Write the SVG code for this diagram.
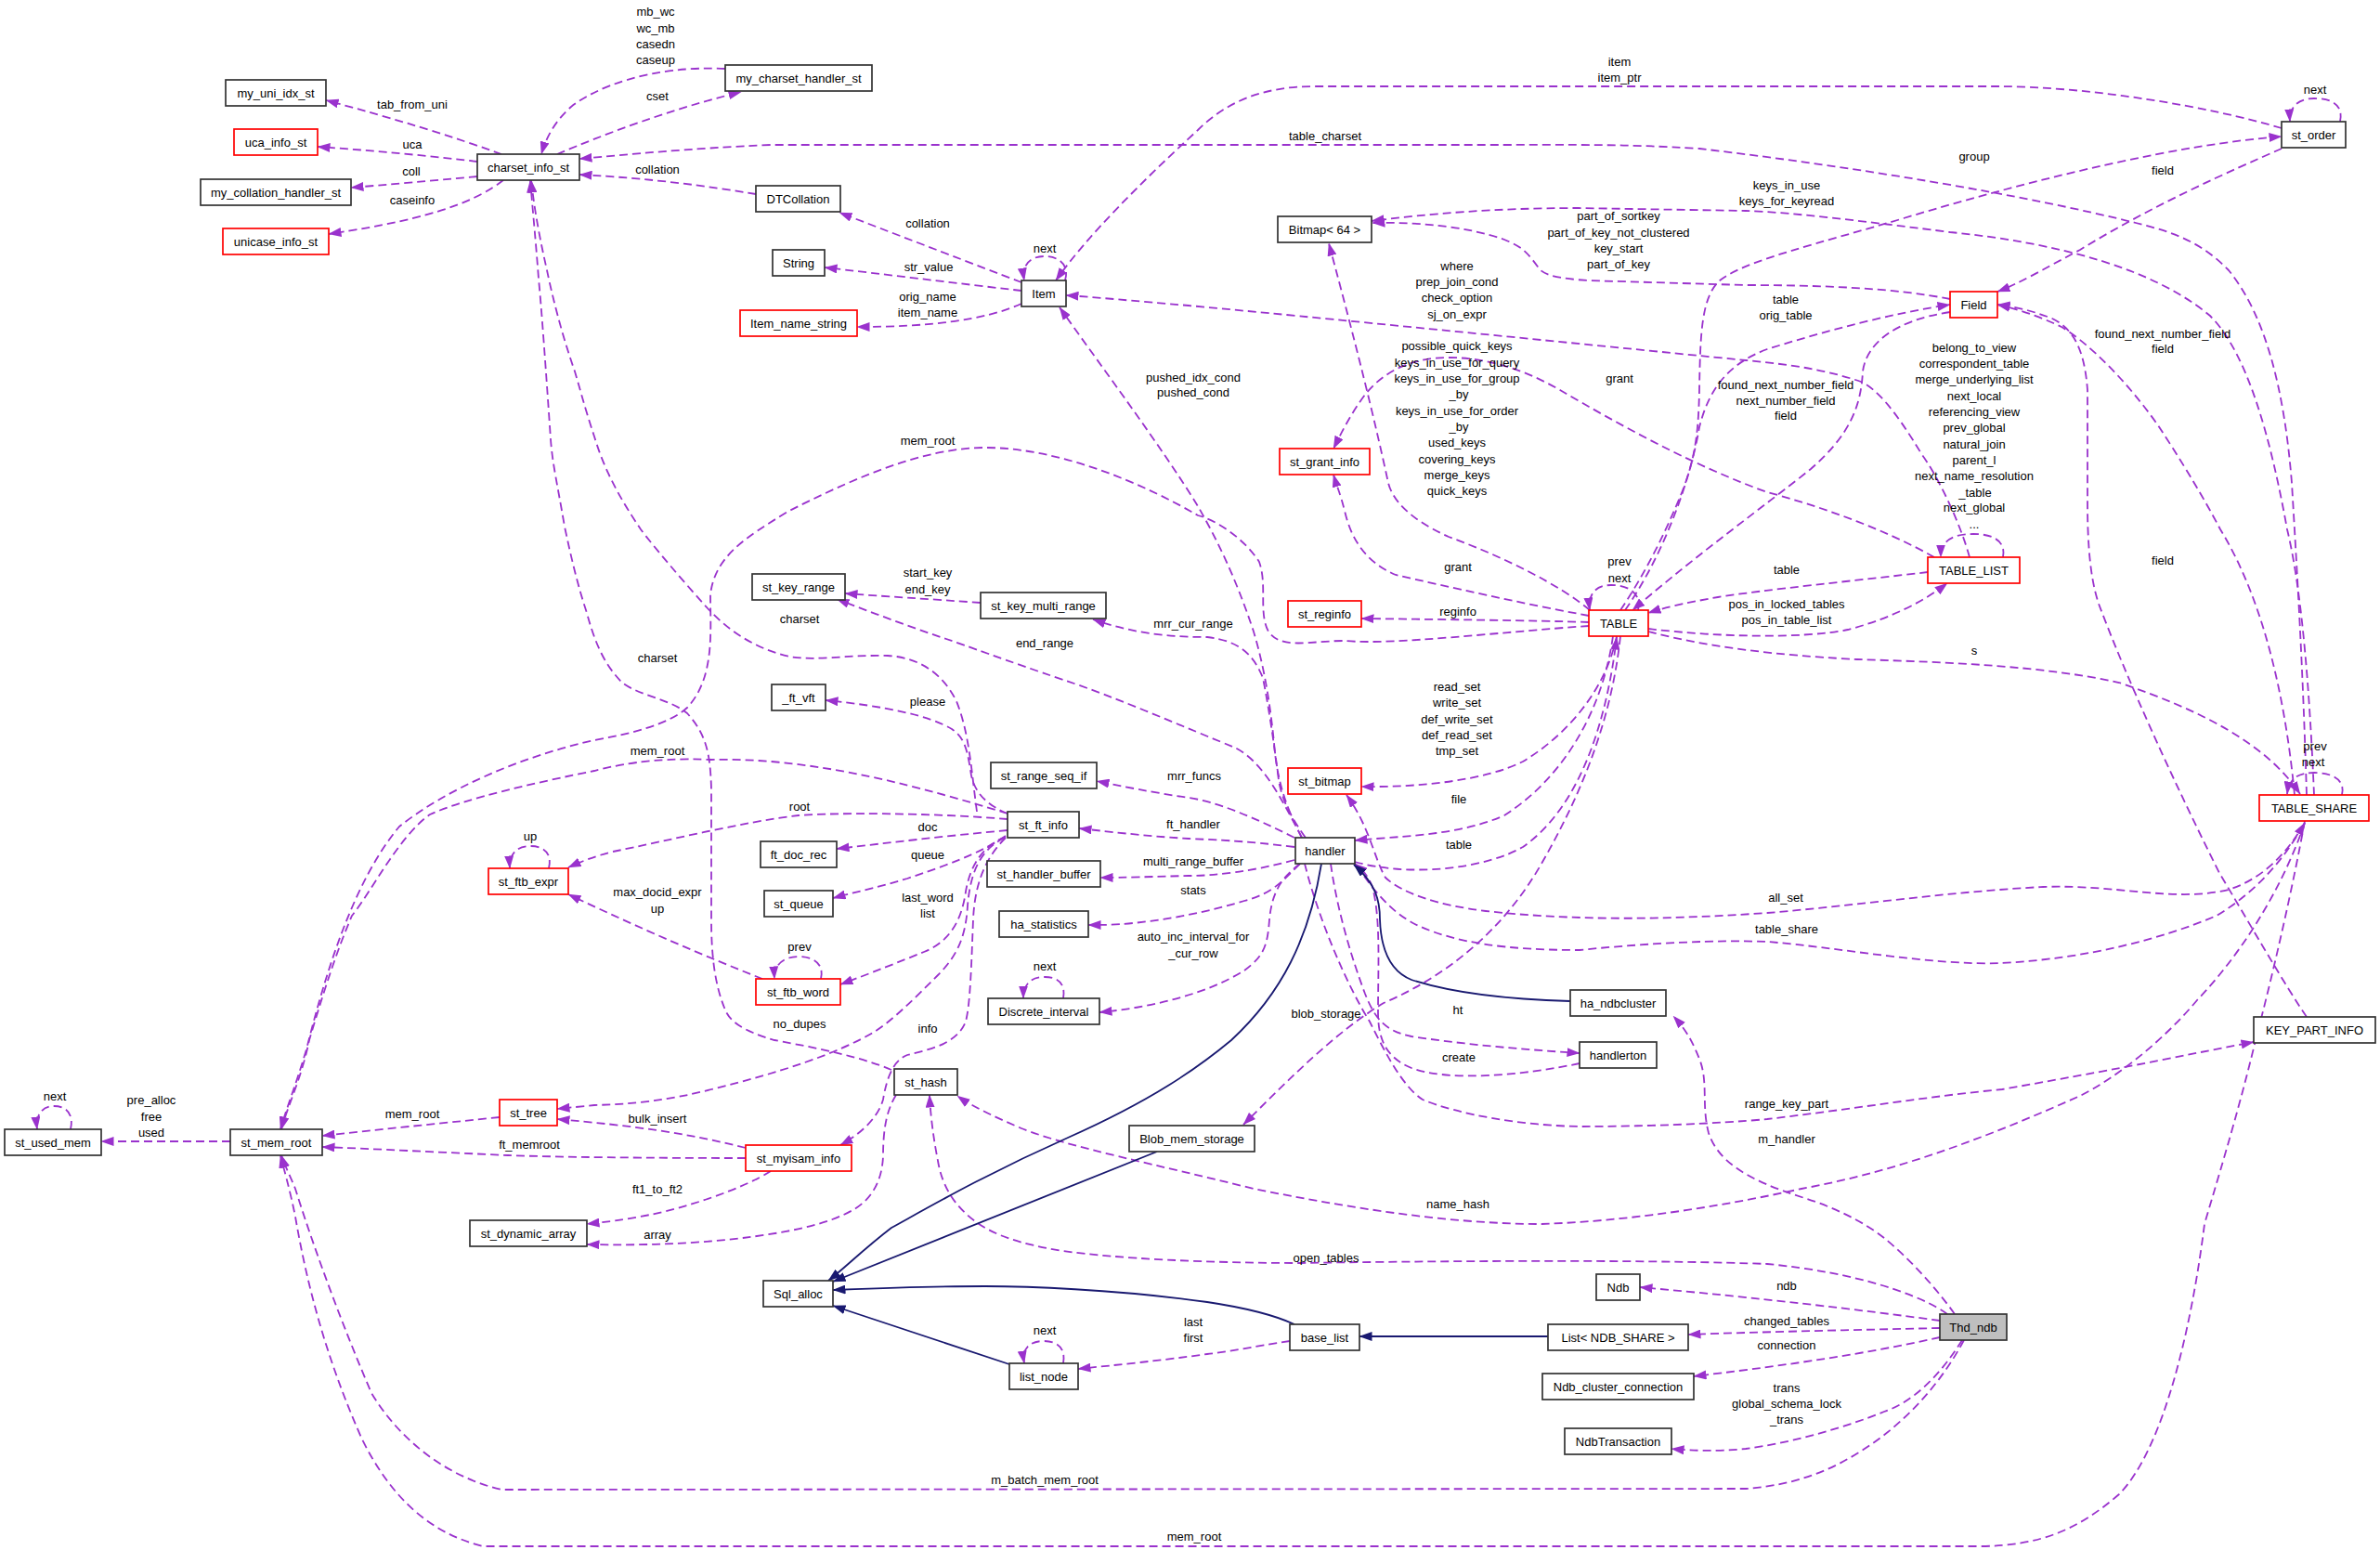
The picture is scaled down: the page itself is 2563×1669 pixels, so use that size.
<svg xmlns="http://www.w3.org/2000/svg" width="2563" height="1669" viewBox="0 0 2563 1669">
<style>
.e{fill:none;stroke:#9a32cd;stroke-width:1.8;stroke-dasharray:9,5;marker-end:url(#ap)}
.i{fill:none;stroke:#191970;stroke-width:1.8;marker-end:url(#an)}
.b{fill:#fff;stroke:#333;stroke-width:1.7}
.r{fill:#fff;stroke:#ff0000;stroke-width:1.7}
.g{fill:#bfbfbf;stroke:#333;stroke-width:1.7}
text{font-family:"Liberation Sans",Arial,sans-serif;font-size:13px;fill:#000;text-anchor:middle}
</style>
<defs>
<marker id="ap" viewBox="0 0 14 10" refX="13.5" refY="5" markerWidth="14" markerHeight="10" orient="auto" markerUnits="userSpaceOnUse"><path d="M0,0 L14,5 L0,10 z" fill="#9a32cd"/></marker>
<marker id="an" viewBox="0 0 14 10" refX="13.5" refY="5" markerWidth="14" markerHeight="10" orient="auto" markerUnits="userSpaceOnUse"><path d="M0,0 L14,5 L0,10 z" fill="#191970"/></marker>
</defs>
<rect width="2563" height="1669" fill="#fff"/>
<g id="connectors">
<path class="e" d="M540,166 Q460,137 351,108"/>
<path class="e" d="M514,174 Q430,164 342,158"/>
<path class="e" d="M514,190 Q440,197 378,202"/>
<path class="e" d="M542,194 C515,215 470,235 354,252"/>
<path class="e" d="M600,166 C650,145 720,118 798,99"/>
<path class="e" d="M781,74 C700,70 640,95 615,115 C598,130 588,148 583,166"/>
<path class="e" d="M814,209 C760,200 700,192 624,188"/>
<path class="e" d="M1100,304 C1050,285 980,258 904,229"/>
<path class="e" d="M1100,313 C1030,305 950,295 888,288"/>
<path class="e" d="M1100,327 C1060,345 1000,352 923,352"/>
<path class="e" d="M1147,302 C1152,285 1140,276 1125,276 C1110,276 1100,284 1103,302"/>
<path class="e" d="M2457,138 C2380,115 2250,93 2150,93 L1415,93 C1360,93 1320,110 1290,140 C1230,195 1170,255 1137,302"/>
<path class="e" d="M2484,856 C2480,720 2474,620 2468,520 C2460,420 2440,340 2400,291 C2370,260 2340,250 2300,240 C2180,210 2000,180 1830,160 C1750,155 1700,156 1600,156 L830,156 C740,160 680,166 624,171"/>
<path class="e" d="M2492,856 C2488,760 2480,640 2463,570 C2445,470 2420,380 2380,340 C2320,290 2220,262 2100,250 C1990,236 1920,228 1880,227 L1700,224 C1610,224 1540,230 1477,238"/>
<path class="e" d="M2100,322 C2040,310 1960,307 1880,307 L1710,302 C1680,300 1665,297 1658,290 C1645,272 1640,266 1620,258 C1580,244 1530,239 1478,240"/>
<path class="e" d="M2121,600 C2110,560 2085,510 2070,490 C2040,440 2020,418 2004,411 C1960,396 1920,392 1880,388 C1700,370 1400,340 1280,329 C1220,324 1180,320 1148,318"/>
<path class="e" d="M2157,600 C2160,585 2150,575 2125,575 C2100,575 2090,584 2090,600"/>
<path class="e" d="M2076,616 C2000,625 1900,635 1850,643 C1810,650 1790,655 1775,660"/>
<path class="e" d="M1775,677 C1850,686 1940,688 1990,678 C2040,665 2075,645 2097,628"/>
<path class="e" d="M1775,680 C1850,700 1940,707 2000,710 C2100,713 2200,717 2282,735 C2370,765 2440,800 2477,855"/>
<path class="e" d="M1764,657 C1768,640 1755,630 1735,630 C1718,630 1710,640 1712,657"/>
<path class="e" d="M2100,336 C2040,345 2010,370 2006,400 C2004,440 1990,470 1950,505 C1900,545 1830,595 1758,657"/>
<path class="e" d="M1750,657 C1790,600 1820,520 1830,460 C1840,420 1860,392 1903,376 C1970,355 2040,337 2100,328"/>
<path class="e" d="M1745,657 C1770,620 1790,580 1805,545 C1825,500 1829,470 1830,420 C1831,360 1832,320 1852,302 C1880,280 1960,262 2050,235 C2200,190 2350,155 2457,147"/>
<path class="e" d="M1711,670 C1650,668 1550,667 1466,666"/>
<path class="e" d="M1711,663 C1640,650 1560,632 1503,619 C1470,605 1455,580 1448,550 C1443,530 1440,525 1436,511"/>
<path class="e" d="M2083,600 C2030,570 1960,545 1903,530 C1820,500 1740,455 1680,420 C1640,397 1600,385 1560,385 C1520,385 1490,400 1470,425 C1455,445 1445,465 1436,483"/>
<path class="e" d="M1712,657 C1680,630 1620,600 1560,578 C1520,560 1500,540 1495,520 C1480,450 1460,370 1431,262"/>
<path class="e" d="M1741,685 C1730,740 1690,790 1640,820 C1600,840 1530,848 1466,847"/>
<path class="e" d="M1737,685 C1725,770 1680,840 1620,878 C1570,900 1510,900 1459,905"/>
<path class="e" d="M1459,928 C1520,945 1600,935 1640,912 C1700,870 1730,780 1741,686"/>
<path class="e" d="M1745,685 C1735,780 1700,860 1660,930 C1620,1000 1560,1050 1490,1080 C1440,1110 1390,1160 1339,1211"/>
<path class="e" d="M1711,674 C1620,680 1500,695 1448,690 C1410,690 1380,700 1366,680 C1355,660 1365,630 1356,605 C1340,580 1310,560 1290,555 C1230,520 1140,482 1061,482 C990,482 910,520 850,550 C800,580 770,600 765,640 C765,680 770,730 740,762 C720,780 680,790 640,797 C560,815 480,850 430,890 C380,950 350,1050 330,1130 C318,1170 308,1195 302,1216"/>
<path class="e" d="M1085,876 C1000,850 880,815 766,818 C700,815 660,825 640,830 C580,842 500,860 463,877 C430,900 400,960 379,986 C360,1030 345,1080 333,1120 C325,1160 310,1190 303,1216"/>
<path class="e" d="M1052,874 C1046,830 1044,790 1030,755 C1015,725 990,708 956,706 C910,705 880,712 850,707 C820,700 790,685 762,655 C735,625 705,590 690,570 C670,540 652,510 640,470 C630,440 625,420 619,400 C605,360 595,320 589,291 C582,260 576,230 572,194"/>
<path class="e" d="M960,1152 C920,1135 860,1125 834,1120 C800,1110 785,1100 780,1085 C770,1060 766,1030 766,990 L766,850 C765,810 760,790 740,768 C720,752 690,750 670,735 C650,715 640,690 632,660 C622,630 615,600 608,567 C600,520 595,500 593,473 C588,400 583,330 580,300 C577,260 574,230 571,194"/>
<path class="e" d="M1085,876 C1065,868 1050,855 1046,835 C1042,810 1040,795 1025,785 C1000,770 950,760 889,754"/>
<path class="e" d="M1085,882 C1000,875 900,875 860,878 C800,885 720,905 660,917 C640,922 625,928 612,934"/>
<path class="e" d="M1085,894 C1020,900 960,907 901,914"/>
<path class="e" d="M1083,900 C1060,915 1040,925 977,946 C940,957 915,962 897,967"/>
<path class="e" d="M1083,901 C1060,910 1045,930 1040,960 C1035,995 1020,1015 995,1025 C970,1035 940,1047 905,1060"/>
<path class="e" d="M1082,902 C1055,915 1045,940 1042,975 C1040,1010 1030,1030 1010,1050 C985,1075 960,1100 940,1112 C900,1135 840,1155 766,1173 C720,1185 680,1189 640,1190 C620,1192 610,1193 600,1194"/>
<path class="e" d="M1083,902 C1065,920 1050,945 1048,990 C1046,1040 1045,1080 1040,1100 C1030,1125 1000,1130 977,1136 C962,1142 955,1160 951,1184 C945,1205 925,1222 905,1233"/>
<path class="e" d="M965,1179 C955,1195 951,1215 951,1245 C950,1270 940,1290 920,1302 C890,1320 840,1328 800,1333 C740,1340 690,1341 632,1340"/>
<path class="e" d="M830,1261 C800,1280 740,1300 700,1308 C670,1314 650,1316 632,1318"/>
<path class="e" d="M803,1236 C740,1220 680,1212 600,1205"/>
<path class="e" d="M803,1247 C700,1247 600,1246 547,1244 C480,1241 400,1237 347,1235"/>
<path class="e" d="M538,1203 C470,1210 410,1216 347,1223"/>
<path class="e" d="M248,1229 L109,1229"/>
<path class="e" d="M76,1216 C80,1198 70,1191 58,1191 C46,1191 38,1200 40,1216"/>
<path class="e" d="M591,935 C595,918 585,911 571,911 C556,911 548,920 549,935"/>
<path class="e" d="M821,1054 C760,1030 690,1000 612,963"/>
<path class="e" d="M884,1054 C888,1037 875,1030 860,1030 C845,1030 833,1038 834,1054"/>
<path class="e" d="M1056,649 C1000,645 950,642 910,639"/>
<path class="e" d="M1402,902 C1380,860 1360,820 1330,805 C1280,785 1200,750 1145,732 C1080,710 1040,695 1019,688 C980,675 940,660 901,645"/>
<path class="e" d="M1406,902 C1390,880 1380,860 1377,840 C1372,800 1366,760 1360,730 C1350,705 1335,690 1300,686 C1260,686 1220,682 1177,667"/>
<path class="e" d="M1394,902 C1350,880 1310,863 1280,859 C1240,853 1210,847 1181,841"/>
<path class="e" d="M1394,912 C1340,905 1300,904 1280,903 C1230,900 1190,895 1162,892"/>
<path class="e" d="M1394,926 C1350,938 1310,943 1280,943 C1240,944 1210,945 1185,945"/>
<path class="e" d="M1400,930 C1380,950 1370,962 1340,970 C1300,982 1260,990 1220,994 C1200,996 1185,996 1172,996"/>
<path class="e" d="M1400,930 C1380,945 1370,960 1367,990 C1365,1020 1360,1030 1340,1045 C1300,1070 1240,1085 1184,1090"/>
<path class="e" d="M1402,902 C1385,870 1375,840 1372,800 C1368,760 1362,720 1350,680 C1330,620 1310,580 1290,545 C1250,480 1190,400 1141,331"/>
<path class="e" d="M1145,1075 C1148,1058 1138,1052 1125,1052 C1112,1052 1102,1058 1102,1075"/>
<path class="e" d="M1433,930 C1440,980 1455,1030 1470,1070 C1480,1095 1490,1110 1520,1116 C1580,1125 1640,1130 1701,1134"/>
<path class="e" d="M1701,1145 C1640,1158 1560,1165 1520,1150 C1490,1138 1484,1115 1484,1090 C1484,1040 1487,990 1478,955 C1472,940 1465,935 1459,930"/>
<path class="e" d="M2482,886 C2465,915 2440,945 2400,958 C2340,972 2280,952 2200,955 C2100,960 2000,975 1903,983 C1800,990 1700,992 1600,981 C1550,975 1510,962 1492,945 C1480,925 1475,890 1450,856"/>
<path class="e" d="M1461,932 C1480,960 1500,985 1530,998 C1570,1015 1620,1023 1701,1023 C1780,1015 1850,1012 1903,1014 C1980,1020 2080,1040 2156,1037 C2250,1032 2330,1010 2387,986 C2430,960 2460,925 2482,886"/>
<path class="e" d="M2482,886 C2460,950 2420,1020 2366,1077 C2330,1120 2280,1160 2240,1180 C2150,1220 2050,1260 1940,1280 C1850,1300 1750,1315 1660,1318 C1560,1318 1450,1300 1350,1280 C1250,1255 1150,1235 1100,1215 C1065,1200 1045,1190 1031,1180"/>
<path class="e" d="M2105,1415 C2080,1380 2050,1350 2029,1333 C2000,1310 1960,1295 1940,1289 C1880,1270 1850,1250 1840,1220 C1832,1190 1840,1165 1830,1140 C1820,1115 1812,1105 1802,1094"/>
<path class="e" d="M2097,1415 C2070,1395 2000,1370 1903,1361 C1800,1357 1600,1357 1400,1360 C1300,1360 1200,1355 1145,1347 C1100,1340 1070,1330 1050,1315 C1030,1300 1015,1280 1010,1250 C1005,1225 1002,1200 1001,1179"/>
<path class="e" d="M2089,1422 C2000,1410 1900,1398 1766,1386"/>
<path class="e" d="M2089,1430 C2000,1432 1900,1434 1818,1437"/>
<path class="e" d="M2089,1440 C2000,1460 1900,1473 1824,1482"/>
<path class="e" d="M2113,1443 C2090,1480 2060,1510 2029,1520 C1980,1540 1920,1555 1880,1560 C1850,1563 1820,1562 1800,1560"/>
<path class="e" d="M2115,1443 C2090,1490 2050,1535 2000,1565 C1960,1590 1920,1600 1880,1603 L540,1604 C480,1590 430,1550 400,1500 C370,1430 340,1350 318,1280 C312,1265 307,1256 303,1244"/>
<path class="e" d="M2482,884 C2470,950 2450,1040 2429,1120 C2410,1200 2385,1280 2374,1318 C2360,1430 2330,1560 2282,1609 C2240,1645 2200,1665 2130,1665 L520,1665 C460,1650 420,1610 390,1550 C350,1460 330,1380 318,1310 C312,1280 306,1260 302,1244"/>
<path class="e" d="M2520,131 C2524,112 2510,106 2492,106 C2475,106 2465,115 2466,131"/>
<path class="e" d="M2457,160 C2400,185 2320,220 2240,269 C2200,290 2175,305 2151,314"/>
<path class="e" d="M2471,856 C2462,760 2440,650 2391,570 C2370,530 2345,490 2324,458 C2290,410 2250,370 2220,352 C2195,340 2170,332 2151,328"/>
<path class="e" d="M2484,1095 C2460,1060 2420,990 2390,940 C2340,840 2290,730 2260,650 C2250,620 2248,580 2248,540 L2248,420 C2245,380 2235,355 2210,343 C2190,335 2170,330 2151,328"/>
<path class="e" d="M1405,930 C1420,990 1450,1060 1475,1100 C1490,1130 1510,1170 1532,1184 C1570,1200 1640,1212 1701,1213 C1770,1213 1850,1210 1903,1205 C1990,1195 2080,1180 2156,1173 C2230,1160 2300,1147 2324,1142 C2360,1135 2395,1128 2427,1122"/>
<path class="e" d="M2522,856 C2526,840 2512,832 2492,832 C2475,832 2465,838 2463,855"/>
<path class="e" d="M1389,1444 C1350,1450 1320,1456 1300,1458 C1250,1465 1200,1470 1161,1474"/>
<path class="e" d="M1145,1468 C1148,1451 1138,1444 1124,1444 C1110,1444 1100,1451 1103,1468"/>
<path class="i" d="M1691,1078 C1620,1076 1560,1068 1520,1055 C1495,1045 1487,1020 1486,990 C1486,970 1482,952 1458,931"/>
<path class="i" d="M1423,930 C1410,1010 1380,1070 1326,1120 C1290,1150 1240,1185 1150,1225 C1060,1265 1000,1300 960,1322 C930,1345 910,1365 892,1379"/>
<path class="i" d="M1246,1240 L897,1380"/>
<path class="i" d="M1394,1426 C1370,1415 1340,1408 1300,1402 C1200,1388 1100,1385 1061,1385 C1000,1385 950,1387 897,1389"/>
<path class="i" d="M1087,1469 L897,1406"/>
<path class="i" d="M1667,1439 L1464,1439"/>
<g id="labels">
<text x="444" y="117">tab_from_uni</text>
<text x="444" y="160">uca</text>
<text x="443" y="189">coll</text>
<text x="444" y="220">caseinfo</text>
<text x="706" y="17">mb_wc</text>
<text x="706" y="35">wc_mb</text>
<text x="706" y="52">casedn</text>
<text x="706" y="69">caseup</text>
<text x="708" y="108">cset</text>
<text x="708" y="187">collation</text>
<text x="999" y="245">collation</text>
<text x="1125" y="272">next</text>
<text x="1000" y="292">str_value</text>
<text x="999" y="324">orig_name</text>
<text x="999" y="341">item_name</text>
<text x="1285" y="411">pushed_idx_cond</text>
<text x="1285" y="427">pushed_cond</text>
<text x="999" y="479">mem_root</text>
<text x="1744" y="71">item</text>
<text x="1744" y="88">item_ptr</text>
<text x="1427" y="151">table_charset</text>
<text x="1924" y="204">keys_in_use</text>
<text x="1924" y="221">keys_for_keyread</text>
<text x="1743" y="237">part_of_sortkey</text>
<text x="1743" y="255">part_of_key_not_clustered</text>
<text x="1743" y="272">key_start</text>
<text x="1743" y="289">part_of_key</text>
<text x="1569" y="291">where</text>
<text x="1569" y="308">prep_join_cond</text>
<text x="1569" y="325">check_option</text>
<text x="1569" y="343">sj_on_expr</text>
<text x="1569" y="377">possible_quick_keys</text>
<text x="1569" y="395">keys_in_use_for_query</text>
<text x="1569" y="412">keys_in_use_for_group</text>
<text x="1571" y="429">_by</text>
<text x="1569" y="447">keys_in_use_for_order</text>
<text x="1571" y="464">_by</text>
<text x="1569" y="481">used_keys</text>
<text x="1569" y="499">covering_keys</text>
<text x="1569" y="516">merge_keys</text>
<text x="1569" y="533">quick_keys</text>
<text x="1744" y="412">grant</text>
<text x="1923" y="327">table</text>
<text x="1923" y="344">orig_table</text>
<text x="1923" y="419">found_next_number_field</text>
<text x="1923" y="436">next_number_field</text>
<text x="1923" y="452">field</text>
<text x="2493" y="101">next</text>
<text x="2126" y="173">group</text>
<text x="2329" y="188">field</text>
<text x="2329" y="364">found_next_number_field</text>
<text x="2329" y="380">field</text>
<text x="2126" y="379">belong_to_view</text>
<text x="2126" y="396">correspondent_table</text>
<text x="2126" y="413">merge_underlying_list</text>
<text x="2126" y="431">next_local</text>
<text x="2126" y="448">referencing_view</text>
<text x="2126" y="465">prev_global</text>
<text x="2126" y="483">natural_join</text>
<text x="2126" y="500">parent_l</text>
<text x="2126" y="517">next_name_resolution</text>
<text x="2127" y="535">_table</text>
<text x="2126" y="551">next_global</text>
<text x="2126" y="569">...</text>
<text x="571" y="905">up</text>
<text x="999" y="621">start_key</text>
<text x="999" y="639">end_key</text>
<text x="861" y="671">charset</text>
<text x="708" y="713">charset</text>
<text x="1125" y="697">end_range</text>
<text x="1285" y="676">mrr_cur_range</text>
<text x="999" y="760">please</text>
<text x="708" y="813">mem_root</text>
<text x="861" y="873">root</text>
<text x="999" y="895">doc</text>
<text x="999" y="925">queue</text>
<text x="999" y="971">last_word</text>
<text x="999" y="988">list</text>
<text x="708" y="965">max_docid_expr</text>
<text x="708" y="983">up</text>
<text x="861" y="1024">prev</text>
<text x="1125" y="1045">next</text>
<text x="861" y="1107">no_dupes</text>
<text x="999" y="1112">info</text>
<text x="1286" y="840">mrr_funcs</text>
<text x="1285" y="892">ft_handler</text>
<text x="1285" y="932">multi_range_buffer</text>
<text x="1285" y="963">stats</text>
<text x="1285" y="1013">auto_inc_interval_for</text>
<text x="1285" y="1031">_cur_row</text>
<text x="1570" y="615">grant</text>
<text x="1744" y="609">prev</text>
<text x="1744" y="627">next</text>
<text x="1924" y="618">table</text>
<text x="1570" y="663">reginfo</text>
<text x="1924" y="655">pos_in_locked_tables</text>
<text x="1924" y="672">pos_in_table_list</text>
<text x="1569" y="744">read_set</text>
<text x="1569" y="761">write_set</text>
<text x="1569" y="779">def_write_set</text>
<text x="1569" y="796">def_read_set</text>
<text x="1569" y="813">tmp_set</text>
<text x="1571" y="865">file</text>
<text x="1571" y="914">table</text>
<text x="1923" y="971">all_set</text>
<text x="1924" y="1005">table_share</text>
<text x="1428" y="1096">blob_storage</text>
<text x="1570" y="1092">ht</text>
<text x="2329" y="608">field</text>
<text x="2126" y="705">s</text>
<text x="2493" y="808">prev</text>
<text x="2491" y="825">next</text>
<text x="59" y="1185">next</text>
<text x="163" y="1189">pre_alloc</text>
<text x="163" y="1207">free</text>
<text x="163" y="1224">used</text>
<text x="444" y="1204">mem_root</text>
<text x="570" y="1237">ft_memroot</text>
<text x="708" y="1209">bulk_insert</text>
<text x="708" y="1285">ft1_to_ft2</text>
<text x="708" y="1334">array</text>
<text x="1285" y="1428">last</text>
<text x="1285" y="1445">first</text>
<text x="1125" y="1437">next</text>
<text x="1125" y="1598">m_batch_mem_root</text>
<text x="1286" y="1659">mem_root</text>
<text x="1571" y="1143">create</text>
<text x="1924" y="1193">range_key_part</text>
<text x="1924" y="1231">m_handler</text>
<text x="1570" y="1301">name_hash</text>
<text x="1428" y="1359">open_tables</text>
<text x="1924" y="1389">ndb</text>
<text x="1924" y="1427">changed_tables</text>
<text x="1924" y="1453">connection</text>
<text x="1924" y="1499">trans</text>
<text x="1924" y="1516">global_schema_lock</text>
<text x="1924" y="1533">_trans</text>
</g>
</g>
<g id="n_my_uni_idx_st"><rect class="b" x="243" y="86" width="108" height="28"/><text x="297" y="105">my_uni_idx_st</text></g>
<g id="n_uca_info_st"><rect class="r" x="252" y="139" width="90" height="28"/><text x="297" y="158">uca_info_st</text></g>
<g id="n_my_collation_handler_st"><rect class="b" x="216" y="193" width="162" height="28"/><text x="297" y="212">my_collation_handler_st</text></g>
<g id="n_unicase_info_st"><rect class="r" x="240" y="246" width="114" height="28"/><text x="297" y="265">unicase_info_st</text></g>
<g id="n_charset_info_st"><rect class="b" x="514" y="166" width="110" height="28"/><text x="569" y="185">charset_info_st</text></g>
<g id="n_my_charset_handler_st"><rect class="b" x="781" y="70" width="158" height="28"/><text x="860" y="89">my_charset_handler_st</text></g>
<g id="n_DTCollation"><rect class="b" x="814" y="200" width="91" height="28"/><text x="859.5" y="219">DTCollation</text></g>
<g id="n_String"><rect class="b" x="832" y="269" width="56" height="28"/><text x="860" y="288">String</text></g>
<g id="n_Item_name_string"><rect class="r" x="797" y="334" width="126" height="28"/><text x="860" y="353">Item_name_string</text></g>
<g id="n_Item"><rect class="b" x="1100" y="302" width="48" height="28"/><text x="1124" y="321">Item</text></g>
<g id="n_Bitmap"><rect class="b" x="1376" y="233" width="101" height="28"/><text x="1426.5" y="252">Bitmap&lt; 64 &gt;</text></g>
<g id="n_st_grant_info"><rect class="r" x="1378" y="483" width="97" height="28"/><text x="1426.5" y="502">st_grant_info</text></g>
<g id="n_st_order"><rect class="b" x="2457" y="131" width="69" height="28"/><text x="2491.5" y="150">st_order</text></g>
<g id="n_Field"><rect class="r" x="2100" y="314" width="51" height="28"/><text x="2125.5" y="333">Field</text></g>
<g id="n_st_ftb_expr"><rect class="r" x="526" y="935" width="86" height="28"/><text x="569" y="954">st_ftb_expr</text></g>
<g id="n_st_key_range"><rect class="b" x="810" y="618" width="100" height="28"/><text x="860" y="637">st_key_range</text></g>
<g id="n_st_key_multi_range"><rect class="b" x="1056" y="638" width="135" height="28"/><text x="1123.5" y="657">st_key_multi_range</text></g>
<g id="n_ft_vft"><rect class="b" x="831" y="737" width="58" height="28"/><text x="860" y="756">_ft_vft</text></g>
<g id="n_st_range_seq_if"><rect class="b" x="1067" y="821" width="114" height="28"/><text x="1124" y="840">st_range_seq_if</text></g>
<g id="n_st_ft_info"><rect class="b" x="1085" y="874" width="77" height="28"/><text x="1123.5" y="893">st_ft_info</text></g>
<g id="n_ft_doc_rec"><rect class="b" x="819" y="906" width="82" height="28"/><text x="860" y="925">ft_doc_rec</text></g>
<g id="n_st_handler_buffer"><rect class="b" x="1063" y="927" width="122" height="28"/><text x="1124" y="946">st_handler_buffer</text></g>
<g id="n_st_queue"><rect class="b" x="823" y="959" width="74" height="28"/><text x="860" y="978">st_queue</text></g>
<g id="n_ha_statistics"><rect class="b" x="1076" y="981" width="96" height="28"/><text x="1124" y="1000">ha_statistics</text></g>
<g id="n_st_ftb_word"><rect class="r" x="814" y="1054" width="91" height="28"/><text x="859.5" y="1073">st_ftb_word</text></g>
<g id="n_Discrete_interval"><rect class="b" x="1064" y="1075" width="120" height="28"/><text x="1124" y="1094">Discrete_interval</text></g>
<g id="n_st_reginfo"><rect class="r" x="1387" y="647" width="79" height="28"/><text x="1426.5" y="666">st_reginfo</text></g>
<g id="n_TABLE"><rect class="r" x="1711" y="657" width="64" height="28"/><text x="1743" y="676">TABLE</text></g>
<g id="n_st_bitmap"><rect class="r" x="1387" y="827" width="79" height="28"/><text x="1426.5" y="846">st_bitmap</text></g>
<g id="n_handler"><rect class="b" x="1395" y="902" width="64" height="28"/><text x="1427" y="921">handler</text></g>
<g id="n_ha_ndbcluster"><rect class="b" x="1691" y="1066" width="103" height="28"/><text x="1742.5" y="1085">ha_ndbcluster</text></g>
<g id="n_TABLE_LIST"><rect class="r" x="2076" y="600" width="99" height="28"/><text x="2125.5" y="619">TABLE_LIST</text></g>
<g id="n_TABLE_SHARE"><rect class="r" x="2433" y="856" width="118" height="28"/><text x="2492" y="875">TABLE_SHARE</text></g>
<g id="n_KEY_PART_INFO"><rect class="b" x="2427" y="1095" width="131" height="28"/><text x="2492.5" y="1114">KEY_PART_INFO</text></g>
<g id="n_st_used_mem"><rect class="b" x="5" y="1216" width="104" height="28"/><text x="57" y="1235">st_used_mem</text></g>
<g id="n_st_mem_root"><rect class="b" x="248" y="1216" width="99" height="28"/><text x="297.5" y="1235">st_mem_root</text></g>
<g id="n_st_tree"><rect class="r" x="538" y="1184" width="62" height="28"/><text x="569" y="1203">st_tree</text></g>
<g id="n_st_dynamic_array"><rect class="b" x="506" y="1314" width="126" height="28"/><text x="569" y="1333">st_dynamic_array</text></g>
<g id="n_st_hash"><rect class="b" x="963" y="1151" width="68" height="28"/><text x="997" y="1170">st_hash</text></g>
<g id="n_st_myisam_info"><rect class="r" x="803" y="1233" width="114" height="28"/><text x="860" y="1252">st_myisam_info</text></g>
<g id="n_Blob_mem_storage"><rect class="b" x="1216" y="1212" width="135" height="28"/><text x="1283.5" y="1231">Blob_mem_storage</text></g>
<g id="n_Sql_alloc"><rect class="b" x="822" y="1379" width="75" height="28"/><text x="859.5" y="1398">Sql_alloc</text></g>
<g id="n_list_node"><rect class="b" x="1087" y="1468" width="74" height="28"/><text x="1124" y="1487">list_node</text></g>
<g id="n_handlerton"><rect class="b" x="1701" y="1122" width="83" height="28"/><text x="1742.5" y="1141">handlerton</text></g>
<g id="n_Ndb"><rect class="b" x="1719" y="1372" width="47" height="28"/><text x="1742.5" y="1391">Ndb</text></g>
<g id="n_base_list"><rect class="b" x="1389" y="1426" width="75" height="28"/><text x="1426.5" y="1445">base_list</text></g>
<g id="n_List_NDB_SHARE"><rect class="b" x="1667" y="1426" width="151" height="28"/><text x="1742.5" y="1445">List&lt; NDB_SHARE &gt;</text></g>
<g id="n_Ndb_cluster_connection"><rect class="b" x="1661" y="1479" width="163" height="28"/><text x="1742.5" y="1498">Ndb_cluster_connection</text></g>
<g id="n_NdbTransaction"><rect class="b" x="1685" y="1538" width="115" height="28"/><text x="1742.5" y="1557">NdbTransaction</text></g>
<g id="n_Thd_ndb"><rect class="g" x="2089" y="1415" width="72" height="28"/><text x="2125" y="1434">Thd_ndb</text></g>
</svg>
